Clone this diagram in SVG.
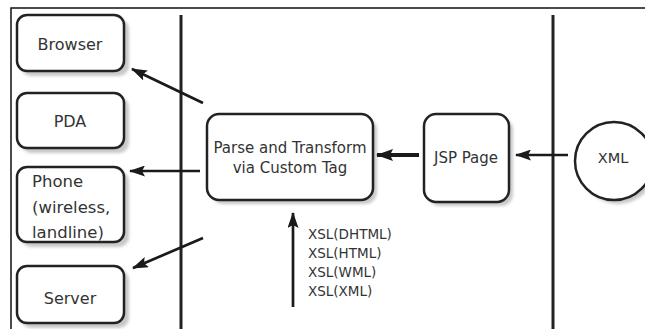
<svg xmlns="http://www.w3.org/2000/svg" width="645" height="329" viewBox="0 0 645 329">
<defs>
<filter id="sh" x="-20%" y="-20%" width="140%" height="140%"><feGaussianBlur stdDeviation="1.5"/></filter>
<marker id="ah" viewBox="0 0 16 11" refX="15" refY="5.5" markerWidth="16" markerHeight="11" markerUnits="userSpaceOnUse" orient="auto"><path d="M0,0 L16,5.5 L0,11 L3,5.5 Z" fill="#1a1a1a"/></marker>
<marker id="ahb" viewBox="0 0 17 12" refX="16" refY="6" markerWidth="17" markerHeight="12" markerUnits="userSpaceOnUse" orient="auto"><path d="M0,0 L17,6 L0,12 L3,6 Z" fill="#1a1a1a"/></marker>
</defs>
<style>
.box{fill:#fff;stroke:#222;stroke-width:2.5}
.shd{fill:#c8c8c8;filter:url(#sh)}
.t{font-family:"DejaVu Sans","Liberation Sans",sans-serif;fill:#333}
.c{stroke:#1a1a1a;stroke-width:2.7;fill:none}
.cb{stroke:#1a1a1a;stroke-width:4;fill:none}
.sep{stroke:#222;stroke-width:3}
</style>
<rect width="645" height="329" fill="#fff"/>
<path d="M11,329 V8 H645" fill="none" stroke="#111" stroke-width="1.5"/>
<line class="sep" x1="181" y1="15" x2="181" y2="329"/>
<line class="sep" x1="553" y1="15" x2="553" y2="329"/>

<g id="browser">
<rect class="shd" x="21" y="19" width="108" height="57" rx="10"/>
<rect class="box" x="17" y="15" width="107" height="56" rx="10"/>
<text class="t" x="70" y="50" font-size="16" text-anchor="middle">Browser</text>
</g>
<g id="pda">
<rect class="shd" x="21" y="97" width="108" height="56" rx="10"/>
<rect class="box" x="17" y="93" width="107" height="55" rx="10"/>
<text class="t" x="70" y="127" font-size="16" text-anchor="middle">PDA</text>
</g>
<g id="phone">
<rect class="shd" x="21" y="171" width="108" height="76" rx="10"/>
<rect class="box" x="17" y="167" width="107" height="75" rx="10"/>
<text class="t" x="32" y="187" font-size="16.5">Phone</text>
<text class="t" x="32" y="213" font-size="16.5">(wireless,</text>
<text class="t" x="32" y="238" font-size="16.5">landline)</text>
</g>
<g id="server">
<rect class="shd" x="21" y="270" width="108" height="58" rx="10"/>
<rect class="box" x="17" y="266" width="107" height="57" rx="10"/>
<text class="t" x="70" y="304" font-size="16" text-anchor="middle">Server</text>
</g>
<g id="parse">
<rect class="shd" x="211" y="118" width="166" height="86" rx="12"/>
<rect class="box" x="207" y="114" width="166" height="86" rx="12"/>
<text class="t" x="290" y="153" font-size="15" text-anchor="middle">Parse and Transform</text>
<text class="t" x="290" y="173" font-size="15" text-anchor="middle">via Custom Tag</text>
</g>
<g id="jsp">
<rect class="shd" x="428" y="118" width="85" height="88" rx="12"/>
<rect class="box" x="424" y="114" width="85" height="88" rx="12"/>
<text class="t" x="466" y="163" font-size="15" text-anchor="middle">JSP Page</text>
</g>
<g id="xml">
<circle class="shd" cx="618" cy="165" r="39"/>
<circle class="box" cx="614" cy="161" r="39"/>
<text class="t" x="613" y="163" font-size="14.5" text-anchor="middle">XML</text>
</g>
<g id="xsl-label">
<text class="t" x="308" y="239" font-size="13.5">XSL(DHTML)</text>
<text class="t" x="308" y="258" font-size="13.5">XSL(HTML)</text>
<text class="t" x="308" y="277" font-size="13.5">XSL(WML)</text>
<text class="t" x="308" y="296" font-size="13.5">XSL(XML)</text>
</g>
<g id="connectors">
<line class="c" x1="203" y1="103" x2="132" y2="69" marker-end="url(#ah)"/>
<line class="c" x1="200" y1="171" x2="130" y2="171" marker-end="url(#ah)"/>
<line class="c" x1="203" y1="238" x2="133" y2="268" marker-end="url(#ah)"/>
<line class="cb" x1="419" y1="155" x2="377" y2="155" marker-end="url(#ahb)"/>
<line class="c" x1="568" y1="155" x2="516" y2="155" marker-end="url(#ah)"/>
<line class="c" x1="293" y1="307" x2="293" y2="213" marker-end="url(#ah)"/>
</g>
</svg>
